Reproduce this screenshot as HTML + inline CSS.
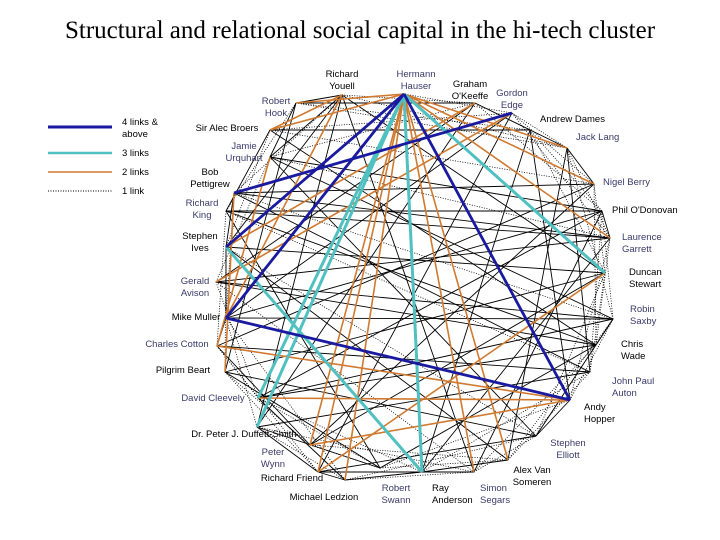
<!DOCTYPE html>
<html><head><meta charset="utf-8">
<style>
body{margin:0;background:#fff;}
svg{display:block;font-family:"Liberation Sans",sans-serif;}
.lb{font-size:9.5px;fill:#000;}
.lp{font-size:9.5px;fill:#3a3a6a;}
</style></head>
<body>
<svg id="net" width="720" height="540" viewBox="0 0 720 540">
<text x="360" y="38" text-anchor="middle" font-family="Liberation Serif, serif" font-size="25">Structural and relational social capital in the hi-tech cluster</text>
<g>
<line x1="48" y1="127" x2="112" y2="127" stroke="#1a1aa0" stroke-width="3"/>
<text class="lb" x="122" y="125">4 links &amp;</text>
<text class="lb" x="122" y="137">above</text>
<line x1="48" y1="153" x2="112" y2="153" stroke="#50c0c0" stroke-width="2.5"/>
<text class="lb" x="122" y="156">3 links</text>
<line x1="48" y1="172" x2="112" y2="172" stroke="#d07a30" stroke-width="1.5"/>
<text class="lb" x="122" y="175">2 links</text>
<line x1="48" y1="191" x2="112" y2="191" stroke="#000" stroke-width="1" stroke-dasharray="1,1.5"/>
<text class="lb" x="122" y="194">1 link</text>
</g>
<g id="edges"></g>
<g id="labels"></g>
</svg>
<script>
const nodeNames=["Richard Youell","Hermann Hauser","Graham O'Keeffe","Gordon Edge","Andrew Dames","Jack Lang","Nigel Berry","Phil O'Donovan","Laurence Garrett","Duncan Stewart","Robin Saxby","Chris Wade","John Paul Auton","Andy Hopper","Stephen Elliott","Alex Van Someren","Simon Segars","Ray Anderson","Robert Swann","Michael Ledzion","Richard Friend","Peter Wynn","Dr. Peter J. Duffett-Smith","David Cleevely","Pilgrim Beart","Charles Cotton","Mike Muller","Gerald Avison","Stephen Ives","Richard King","Bob Pettigrew","Jamie Urquhart","Sir Alec Broers","Robert Hook"];
const nodeX=[342,404,475,512,530,567,594,602,610,605,613,596,590,570,536,508,474,422,380,345,318,310,257,258,225,217,226,216,226,226,234,270,270,296];
const nodeY=[95,94,103,113,130,148,184,211,238,273,319,345,372,400,436,460,472,472,468,480,472,445,427,398,372,346,318,282,247,211,193,157,130,103];
const labels=[
 [["Richard","Youell"],342,77,"middle",0],[["Hermann","Hauser"],416,77,"middle",1],[["Graham","O'Keeffe"],470,87,"middle",0],
 [["Gordon","Edge"],512,96,"middle",1],[["Andrew Dames"],540,122,"start",0],[["Jack Lang"],576,140,"start",1],
 [["Nigel Berry"],603,185,"start",1],[["Phil  O'Donovan"],612,213,"start",0],[["Laurence","Garrett"],622,240,"start",1],
 [["Duncan","Stewart"],629,275,"start",0],[["Robin","Saxby"],630,312,"start",1],[["Chris","Wade"],621,347,"start",0],
 [["John Paul","Auton"],612,384,"start",1],[["Andy","Hopper"],584,410,"start",0],[["Stephen","Elliott"],568,446,"middle",1],
 [["Alex Van","Someren"],532,473,"middle",0],[["Simon","Segars"],480,491,"start",1],[["Ray","Anderson"],432,491,"start",0],
 [["Robert","Swann"],396,491,"middle",1],[["Michael Ledzion"],324,500,"middle",0],[["Richard Friend"],292,481,"middle",0],
 [["Peter","Wynn"],273,455,"middle",1],[["Dr. Peter J. Duffett-Smith"],244,437,"middle",0],[["David Cleevely"],213,401,"middle",1],
 [["Pilgrim  Beart"],183,373,"middle",0],[["Charles Cotton"],177,347,"middle",1],[["Mike Muller"],196,320,"middle",0],
 [["Gerald","Avison"],195,284,"middle",1],[["Stephen","Ives"],200,239,"middle",0],[["Richard","King"],202,206,"middle",1],
 [["Bob","Pettigrew"],210,175,"middle",0],[["Jamie","Urquhart"],244,149,"middle",1],[["Sir Alec Broers"],227,131,"middle",0],
 [["Robert","Hook"],276,104,"middle",1]];
const edges4=[[1,28],[1,26],[1,13],[3,30],[26,13]];
const edges3=[[1,17],[1,9],[28,17],[1,23],[1,22]];
const edges2=[[1,32],[1,33],[1,5],[1,6],[1,8],[1,16],[1,15],[1,20],[1,21],[0,26],[9,20],[13,21],[13,23],[13,25],[3,27],[30,24],[31,25],[0,32],[1,19],[2,28]];
const edges1=[[33,2],[33,31],[33,24],[0,31],[0,16],[0,9],[0,22],[32,4],[32,11],[32,29],[31,7],[31,10],[31,14],[30,8],[30,12],[29,7],[29,18],[28,9],[28,0],[27,11],[27,2],[26,10],[26,3],[25,12],[25,6],[24,14],[23,11],[23,19],[22,18],[22,12],[21,6],[20,17],[20,14],[19,17],[17,16],[17,8],[17,4],[18,11],[16,7],[15,5],[15,28],[14,10],[13,4],[12,5],[11,29],[10,23],[9,24],[8,27],[7,26],[6,30],[5,2],[3,20],[2,22],[0,33],[28,26],[22,20],[20,19],[17,15],[14,13],[11,10],[8,7],[6,5],[21,9],[23,7],[27,10],[29,8],[30,28],[26,25],[25,21],[24,18]];
const edgesDot=[[33,5],[32,6],[31,8],[30,10],[29,12],[28,14],[27,16],[26,19],[25,20],[24,21],[23,17],[22,16],[21,15],[19,14],[18,13],[17,12],[16,11],[15,10],[14,9],[13,8],[12,7],[11,6],[10,5],[9,4],[8,3],[7,2],[6,1],[5,0],[4,33],[3,32],[2,31],[0,30],[33,29],[32,28],[31,27],[30,26],[29,25],[28,24],[27,23],[26,22],[25,23],[24,20],[23,18],[22,19],[21,18],[20,16],[19,16],[18,15],[16,14],[15,12],[14,11],[13,10],[12,9],[11,8],[10,7],[9,6],[8,5],[7,4],[6,3],[5,3],[4,2],[3,1],[2,0],[1,33],[0,32]];
const NS="http://www.w3.org/2000/svg";
const eg=document.getElementById('edges');
function px(i){return nodeX[i];} function py(i){return nodeY[i];}
function draw(list,stroke,w,dash,name){
 list.forEach(e=>{const a=e[0],b=e[1];if(a===b)return;
  const l=document.createElementNS(NS,'line');
  l.setAttribute('x1',px(a));l.setAttribute('y1',py(a));l.setAttribute('x2',px(b));l.setAttribute('y2',py(b));
  l.setAttribute('stroke',stroke);l.setAttribute('stroke-width',w);if(dash)l.setAttribute('stroke-dasharray',dash);
  
  
  eg.appendChild(l);});
}
draw(edgesDot,'#000',0.8,'1,1.5','edge-1-link');
draw(edges1,'#000',0.9,null,'edge-thin');
draw(edges2,'#d07a30',1.6,null,'edge-2-links');
draw(edges3,'#50c0c0',3,null,'edge-3-links');
draw(edges4,'#1a1aa0',2.8,null,'edge-4-links');
const lg=document.getElementById('labels');
labels.forEach((L,i)=>{
 const t=document.createElementNS(NS,'text');
 t.setAttribute('class',L[4]?'lp':'lb');t.setAttribute('x',L[1]);t.setAttribute('y',L[2]);t.setAttribute('text-anchor',L[3]);
 L[0].forEach((s,j)=>{const ts=document.createElementNS(NS,'tspan');ts.setAttribute('x',L[1]);ts.setAttribute('dy',j?12:0);ts.textContent=s;t.appendChild(ts);});
 
 
 lg.appendChild(t);
});
</script>
</body></html>
